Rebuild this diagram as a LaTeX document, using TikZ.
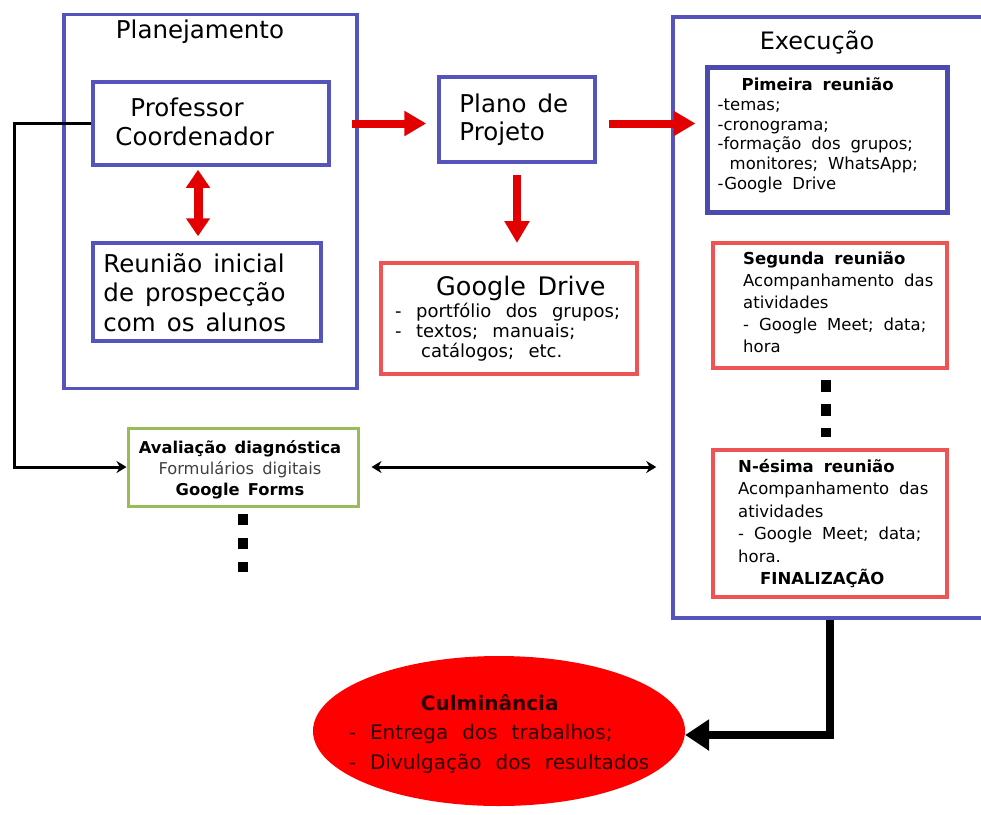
\documentclass[tikz,border=0pt]{standalone}
\usepackage{fontspec}
\setmainfont{DejaVu Sans}
\usepackage{tikz}
\usetikzlibrary{arrows.meta,shapes.geometric,positioning}
\definecolor{azul}{RGB}{84,84,188}
\definecolor{azulesc}{RGB}{74,74,176}
\definecolor{verm}{RGB}{238,84,84}
\definecolor{seta}{RGB}{226,0,0}
\definecolor{verde}{RGB}{155,187,89}
\definecolor{culmtxt}{RGB}{40,0,0}
\newcommand{\fs}[2]{\fontsize{#1}{#2}\selectfont}
\newcommand{\espaco}[1][.6em]{\spaceskip=#1\relax}

\begin{document}
\begin{tikzpicture}[x=1pt,y=-1pt,inner sep=0pt,
  box/.style={draw=azul,line width=3.5pt,rectangle},
  rbox/.style={draw=verm,line width=4pt,rectangle},
  txt/.style={align=left},
  redarrow/.style={draw=seta,line width=8pt,-{Triangle[width=24pt,length=22pt]}},
  blk/.style={draw=black,line width=3pt},
  dots/.style={draw=black,line width=10pt,dash pattern=on 11.5pt off 12.5pt}]
\useasboundingbox (0,0) rectangle (981,814);

\node[box,minimum width=293pt,minimum height=374pt] (P) at (210.5,201.5) {};
\node[font=\fs{24.5}{28}] (PT) at (200,32) {Planejamento};
\node[box,minimum width=236pt,minimum height=83pt] (PC) at (211,123.5) {};
\node[txt,font=\fs{24.5}{29},below right=17pt and 24pt of PC.north west] (PCt) {\hspace*{15pt}Professor\\Coordenador};
\node[box,minimum width=228pt,minimum height=98pt] (R) at (207,292) {};
\node[txt,font={\fs{24.5}{29.5}\espaco[.45em]},below right=12pt and 12pt of R.north west] (Rt) {Reunião inicial\\de prospecção\\com os alunos};

\node[box,minimum width=156pt,minimum height=85pt] (PP) at (517,119.5) {};
\node[txt,font={\fs{24.5}{28}\espaco[.45em]},below right=18pt and 22pt of PP.north west] (PPt) {Plano de\\Projeto};
\node[rbox,minimum width=256pt,minimum height=111pt] (GD) at (509,318.5) {};
\node[txt,font={\fs{18}{20}\espaco[.8em]},below right=15pt and 16pt of GD.north west] (GDt) {\hspace*{41pt}{\fs{25.5}{28}\espaco[.45em]Google Drive}\\[1.5pt]- portfólio dos grupos;\\- textos; manuais;\\\hspace*{26pt}catálogos; etc.};

\node[box,minimum width=317pt,minimum height=601pt] (E) at (831.5,317.5) {};
\node[font=\fs{24}{28}] (ET) at (817,42) {Execução};
\node[box,draw=azulesc,line width=5pt,minimum width=240pt,minimum height=145pt] (R1) at (827,139.5) {};
\node[txt,font={\fs{16.5}{19.8}\espaco},below right=13pt and 13pt of R1.north west] (R1t) {\hspace*{24pt}\textbf{Pimeira reunião}\\-temas;\\-cronograma;\\-formação dos grupos;\\\hspace*{12pt}monitores; WhatsApp;\\-Google Drive};
\node[rbox,minimum width=234pt,minimum height=125pt] (R2) at (830,305.5) {};
\node[txt,font={\fs{16.5}{22}\espaco},below right=10pt and 32pt of R2.north west] (R2t) {\textbf{Segunda reunião}\\Acompanhamento das\\atividades\\- Google Meet; data;\\hora};
\node[rbox,minimum width=234pt,minimum height=147pt] (RN) at (830,523.5) {};
\node[txt,font={\fs{16.5}{22.4}\espaco},below right=11pt and 27pt of RN.north west] (RNt) {\textbf{N-ésima reunião}\\Acompanhamento das\\atividades\\- Google Meet; data;\\hora.\\\hspace*{22pt}\textbf{FINALIZAÇÃO}};

\node[draw=verde,line width=3pt,minimum width=230pt,minimum height=78pt] (AD) at (243,467) {};
\node[align=center,font={\fs{16.3}{20.8}\espaco[.5em]},xshift=-3pt,yshift=-3pt] (ADt) at (AD.center) {\textbf{Avaliação diagnóstica}\\{\color{darkgray}Formulários digitais}\\\textbf{Google Forms}};

\node[ellipse,fill=red,minimum width=372pt,minimum height=150pt] (C) at (499,731) {};
\node[txt,text=culmtxt,font={\fs{20}{29.5}\espaco[.7em]},yshift=-3pt] (CT) at (C.center) {\hspace*{72pt}\textbf{Culminância}\\- Entrega dos trabalhos;\\- Divulgação dos resultados};

\coordinate (D1) at ([xshift=-13pt]PC.south);
\coordinate (L) at (14,123.5);
\coordinate (ADd) at (243,572);

\path ([xshift=-7pt]P.east |- PC.east) edge[redarrow,shorten >=11pt] (PP.west |- PC.east);
\path ([xshift=12pt]PP.east |- PC.east) edge[redarrow,shorten >=9pt] (R1.west |- PC.east);
\path (PP.south) edge[redarrow,shorten <=11pt,shorten >=18pt] (PP.south |- GD.north);
\path (D1) edge[draw=seta,line width=9pt,{Triangle[width=23pt,length=18pt]}-{Triangle[width=23pt,length=18pt]},shorten <=3pt,shorten >=5pt] (D1 |- R.north);

\draw[blk,-{Stealth[length=10pt,width=12pt]}] (PC.west) -- (L) |- (AD.west);
\path ([xshift=12pt]AD.east) edge[blk,{Stealth[length=10pt,width=12pt]}-{Stealth[length=10pt,width=12pt]},shorten >=15pt] (AD.east -| E.west);
\draw[line width=8pt,-{Triangle[width=30pt,length=24pt]}] (RN.south |- E.south) |- ([yshift=-4pt]C.east);

\draw[dots] ([xshift=-4pt,yshift=-10pt]R2.south) -- ([xshift=-4pt,yshift=11pt]RN.north);
\draw[dots] ([yshift=-6pt]AD.south) -- (ADd);
\end{tikzpicture}
\end{document}
